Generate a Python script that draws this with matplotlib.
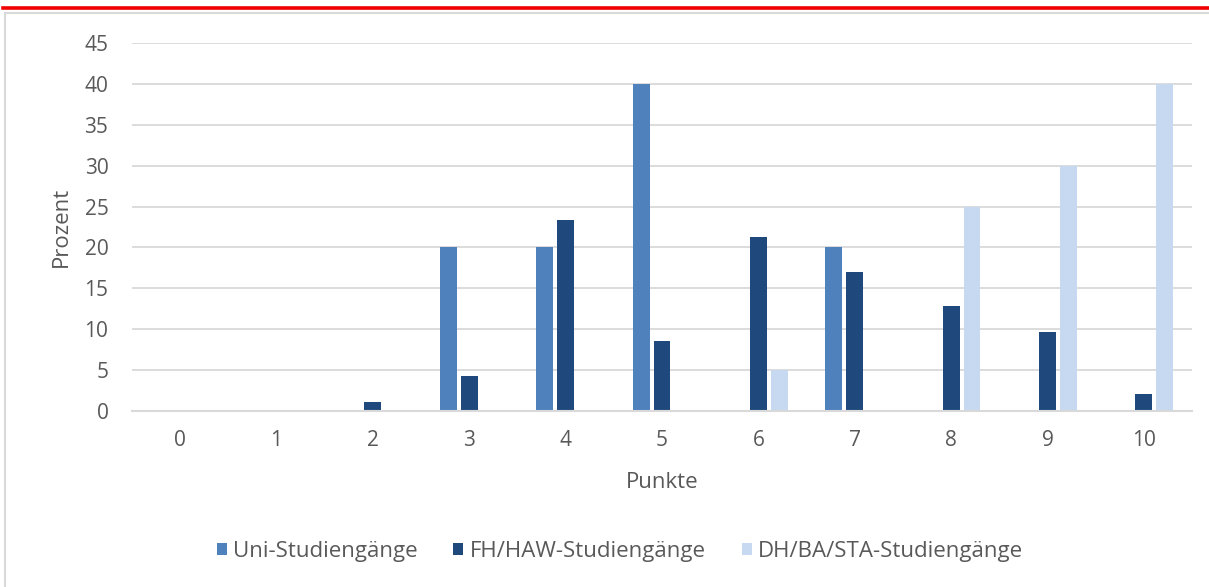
import matplotlib.pyplot as plt
from matplotlib.patches import Rectangle
import numpy as np

punkte = list(range(11))
uni = [0, 0, 0, 20, 20, 40, 0, 20, 0, 0, 0]
fh_haw = [0, 0, 1.1, 4.3, 23.4, 8.5, 21.3, 17.0, 12.8, 9.6, 2.1]
dh_ba_sta = [0, 0, 0, 0, 0, 0, 5, 0, 25, 30, 40]
series = [
    ("Uni-Studiengänge", uni, "#4f81bd"),
    ("FH/HAW-Studiengänge", fh_haw, "#1f497d"),
    ("DH/BA/STA-Studiengänge", dh_ba_sta, "#c6d9f0"),
]

plt.rcParams['font.family'] = ['Open Sans', 'DejaVu Sans']
txt = "#595959"

fig = plt.figure(figsize=(12.09, 5.87), dpi=100)
# red rule on top and grey frame around the chart
fig.add_artist(plt.Line2D([3 / 1209, 1], [1 - 8 / 587, 1 - 8 / 587], color="#f00000", lw=2.6))
fig.add_artist(Rectangle((4.5 / 1209, -0.05), 1.1, 1 - 12.5 / 587 + 0.05, fill=False,
                         edgecolor="#d9d9d9", lw=1.5))

ax = fig.add_axes([132 / 1209, 1 - 411 / 587, 1060 / 1209, 368 / 587])
x = np.arange(len(punkte))
w = 0.176
step = 0.217
for i, (name, vals, col) in enumerate(series):
    ax.bar(x + (i - 1) * step, vals, width=w, color=col, label=name, zorder=3)

ax.set_xlim(-0.5, 10.5)
ax.set_ylim(0, 45)
ax.set_yticks(range(0, 46, 5))
ax.set_xticks(x)
ax.set_xticklabels([str(p) for p in punkte])
ax.grid(axis="y", color="#d9d9d9", lw=1.3, zorder=0)
for s in ["top", "right", "left"]:
    ax.spines[s].set_visible(False)
ax.spines["bottom"].set_color("#d9d9d9")
ax.spines["bottom"].set_linewidth(1.5)
ax.spines["bottom"].set_zorder(4)
ax.tick_params(length=0, labelsize=15, colors=txt, pad=14)
ax.tick_params(axis="y", pad=17)
ax.set_xlabel("Punkte", fontsize=16, color=txt, labelpad=15)
ax.set_ylabel("Prozent", fontsize=16, color=txt, labelpad=9)

fig.legend(loc="center", bbox_to_anchor=(620 / 1209, 1 - 551 / 587), ncol=3, frameon=False,
           fontsize=16, labelcolor=txt, handlelength=0.45, handleheight=0.45,
           handletextpad=0.3, columnspacing=1.6)

fig.savefig("out.png", dpi=100)
